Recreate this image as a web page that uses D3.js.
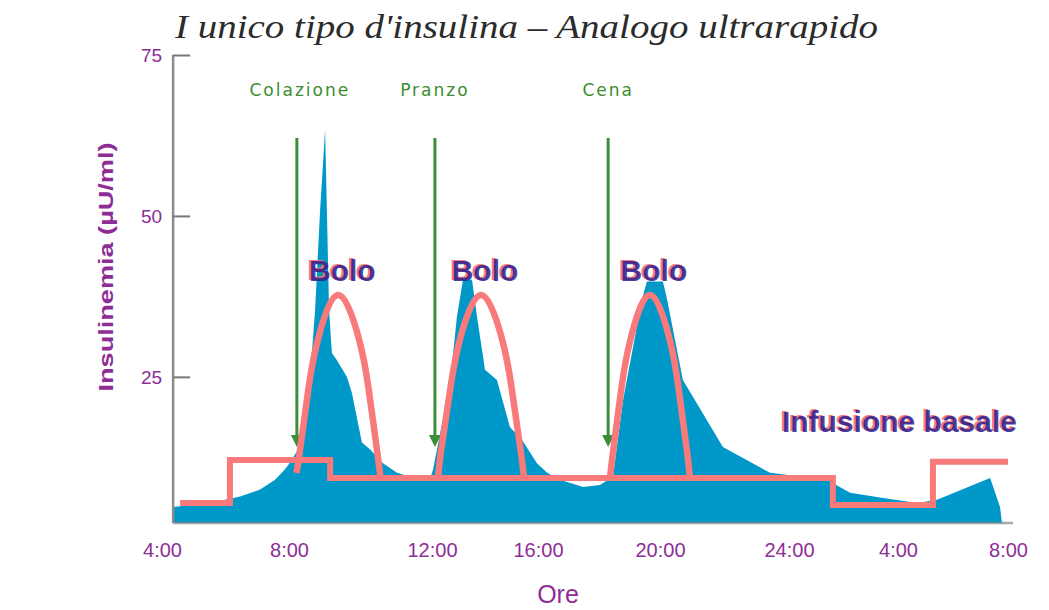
<!DOCTYPE html>
<html>
<head>
<meta charset="utf-8">
<script src="https://cdn.jsdelivr.net/npm/d3@7"></script>
<style>
  html, body { margin: 0; padding: 0; background: #fff; }
  svg { display: block; }
</style>
</head>
<body>
<svg id="chart" width="1049" height="610"></svg>
<script>
// ---------------- DATA ----------------
const hourTicks = [4, 8, 12, 16, 20, 24, 28, 32];
const hourLabels = ["4:00", "8:00", "12:00", "16:00", "20:00", "24:00", "4:00", "8:00"];
const yTicks = [25, 50, 75];
const yFloor = 2.3;

// plasma insulin (blue area)
const insulinTime = [4.35,5.51,6.46,7.09,7.56,7.87,8.08,8.36,8.59,8.73,8.87,9.01,9.06,9.12,9.20,9.34,9.62,9.76,10.04,10.27,10.63,11.02,11.38,11.94,12.04,12.68,12.94,13.17,13.51,13.70,14.00,14.45,14.94,15.40,15.96,16.30,16.72,17.48,18.03,18.46,18.79,19.41,19.57,20.09,20.22,20.71,21.95,23.41,25.39,26.24,27.45,28.69,29.42,31.35,31.71,31.78];
const insulinValue = [4.8,5.4,6.4,7.5,9.0,10.6,12.1,14.8,25.0,35.4,50.9,63.4,50.9,35.4,28.7,27.6,25.0,22.5,14.8,13.7,11.6,10.1,9.5,9.0,10.6,24.1,34.3,40.1,40.1,34.3,26.1,24.5,17.2,15.2,11.6,10.1,9.0,7.9,8.2,9.5,21.4,37.0,39.8,39.8,37.0,24.5,14.1,10.1,9.0,7.0,6.2,5.4,5.9,9.3,4.8,2.3];

// basal infusion (pink step line)
const basalTime = [4.57, 6.14, 9.15, 25.61, 29.27, 32.0];
const basalValue = [5.4, 12.1, 9.3, 5.1, 11.8, 11.8];

// boluses (pink arcs)
const bolus1Time = [8.21,8.31,8.55,8.80,9.38,9.97,10.22,10.46,10.56];
const bolus2Time = [12.23,12.35,12.70,13.04,13.85,14.66,15.00,15.34,15.47];
const bolus3Time = [18.36,18.47,18.74,19.02,19.67,20.31,20.57,20.83,20.93];
const bolus1Value = [10.1,13.7,23.4,30.6,37.7,30.6,23.4,13.7,9.3];
const bolus2Value = [9.3,13.7,23.4,30.6,37.7,30.6,23.4,13.7,9.3];
const bolus3Value = [9.3,13.7,23.4,30.6,37.7,30.6,23.4,13.7,9.3];
const bolusLabel = "Bolo";

// meals (green arrows)
const mealTime = [8.22, 12.11, 18.30];
const mealLabels = ["Colazione", "Pranzo", "Cena"];
const arrowTop = 62.1;
const arrowTip = 14.1;

const titleText = "I unico tipo d'insulina \u2013 Analogo ultrarapido";
const yLabelText = "Insulinemia (\u00b5U/ml)";
const xLabelText = "Ore";
const basalLabel = "Infusione basale";

// ---------------- CHART ----------------
const svg = d3.select("#chart");
const purple = "#8e2d96";
const pink = "#f87a7a";
const blue = "#0098c8";
const green = "#3b8f3b";
const textBlue = "#2a1f8f";

const x = d3.scaleLinear().domain(hourTicks).range([162, 289, 432, 538, 660, 789, 898, 1008]);
const y = d3.scaleLinear().domain([yFloor, 75]).range([523, 55]);

// title
svg.append("text")
  .attr("x", 175).attr("y", 38)
  .attr("textLength", 703).attr("lengthAdjust", "spacingAndGlyphs")
  .style("font-family", "'Liberation Serif', 'Times New Roman', serif")
  .style("font-style", "italic").style("font-size", "34px")
  .attr("fill", "#2b2b2b")
  .text(titleText);

// area
const insulin = insulinTime.map((t, i) => ({ t, v: insulinValue[i] }));
svg.append("path")
  .datum(insulin)
  .attr("fill", blue)
  .attr("d", d3.area().x(d => x(d.t)).y0(y(yFloor)).y1(d => y(d.v)).curve(d3.curveLinear));

// axes
const yAxisX = x(insulinTime[0]);
svg.append("line")
  .attr("x1", yAxisX).attr("x2", yAxisX).attr("y1", y(75)).attr("y2", y(yFloor))
  .attr("stroke", "#8a8a8a").attr("stroke-width", 2.5);
svg.append("line")
  .attr("x1", yAxisX).attr("x2", x(32) + 5).attr("y1", y(yFloor)).attr("y2", y(yFloor))
  .attr("stroke", "#7a8a90").attr("stroke-width", 2.5).attr("opacity", 0.7);

const yAxisG = svg.append("g").attr("transform", `translate(${yAxisX},0)`)
  .call(d3.axisRight(y).tickValues(yTicks).tickSize(17).tickFormat(d3.format("d")));
yAxisG.select(".domain").remove();
yAxisG.selectAll(".tick line").attr("stroke", "#777").attr("stroke-width", 2);
yAxisG.selectAll(".tick text")
  .attr("x", -11).attr("text-anchor", "end").attr("dy", "0.35em")
  .attr("fill", purple)
  .style("font-family", "'Liberation Sans Narrow', 'Liberation Sans', Arial, sans-serif")
  .style("font-size", "19px");

const xAxisG = svg.append("g").attr("transform", `translate(0,${y(yFloor)})`)
  .call(d3.axisBottom(x).tickValues(hourTicks).tickSize(0).tickFormat((d, i) => hourLabels[i]));
xAxisG.select(".domain").remove();
xAxisG.selectAll(".tick text")
  .attr("y", 34).attr("dy", 0)
  .attr("fill", purple)
  .style("font-family", "'Liberation Sans Narrow', 'Liberation Sans', Arial, sans-serif")
  .style("font-size", "20px");

// axis titles
svg.append("text")
  .attr("transform", "translate(106,267) rotate(-90)")
  .attr("text-anchor", "middle").attr("dy", "0.35em")
  .attr("textLength", 249).attr("lengthAdjust", "spacingAndGlyphs")
  .attr("fill", purple)
  .style("font-family", "'Liberation Sans', Arial, sans-serif")
  .style("font-weight", "bold").style("font-size", "20px")
  .text(yLabelText);
svg.append("text")
  .attr("x", 558).attr("y", 603).attr("text-anchor", "middle")
  .attr("fill", purple)
  .style("font-family", "'Liberation Sans', Arial, sans-serif")
  .style("font-size", "25px")
  .text(xLabelText);

// meal arrows
const meals = mealTime.map((t, i) => ({ t, label: mealLabels[i] }));
const mg = svg.append("g").selectAll("g").data(meals).join("g");
mg.append("line")
  .attr("x1", d => x(d.t)).attr("x2", d => x(d.t))
  .attr("y1", y(arrowTop)).attr("y2", y(arrowTip) - 8)
  .attr("stroke", green).attr("stroke-width", 3);
mg.append("path")
  .attr("d", d => {
    const cx = x(d.t), ty = y(arrowTip);
    return `M${cx - 6},${ty - 12} L${cx + 6},${ty - 12} L${cx},${ty} Z`;
  })
  .attr("fill", green);
mg.append("text")
  .attr("x", d => x(d.t) + (d.label === "Colazione" ? 3 : 0))
  .attr("y", 96).attr("text-anchor", "middle")
  .attr("fill", "#3d8c30")
  .style("font-family", "'DejaVu Sans', Verdana, sans-serif")
  .style("font-size", "17px").style("letter-spacing", "2px")
  .style("font-weight", "500")
  .text(d => d.label);

// basal step line
const basal = basalTime.map((t, i) => ({ t, v: basalValue[i] }));
svg.append("path")
  .datum(basal)
  .attr("fill", "none").attr("stroke", pink).attr("stroke-width", 6)
  .attr("stroke-linejoin", "miter")
  .attr("d", d3.line().x(d => x(d.t)).y(d => y(d.v)).curve(d3.curveStepAfter));

// bolus arcs
const boluses = [
  bolus1Time.map((t, i) => ({ t, v: bolus1Value[i] })),
  bolus2Time.map((t, i) => ({ t, v: bolus2Value[i] })),
  bolus3Time.map((t, i) => ({ t, v: bolus3Value[i] }))
];
const arcLine = d3.line().x(d => x(d.t)).y(d => y(d.v)).curve(d3.curveNatural);
svg.append("g").selectAll("path").data(boluses).join("path")
  .attr("fill", "none").attr("stroke", pink).attr("stroke-width", 6.5)
  .attr("stroke-linecap", "butt")
  .attr("d", arcLine);

// labels with pink shadow
function shadowText(px, py, txt, anchor) {
  const g = svg.append("g").style("font-family", "'Liberation Sans', Arial, sans-serif")
    .style("font-weight", "bold").style("font-size", "30px");
  g.append("text").attr("x", px - 2).attr("y", py - 1.5).attr("text-anchor", anchor)
    .attr("fill", pink).text(txt);
  g.append("text").attr("x", px).attr("y", py).attr("text-anchor", anchor)
    .attr("fill", textBlue).attr("opacity", 0.85).text(txt);
}
boluses.forEach(b => {
  const peak = b.reduce((a, c) => (c.v > a.v ? c : a));
  shadowText(x(peak.t) + 4, 281, bolusLabel, "middle");
});
shadowText(x(32) + 9, 432, basalLabel, "end");
</script>
</body>
</html>
